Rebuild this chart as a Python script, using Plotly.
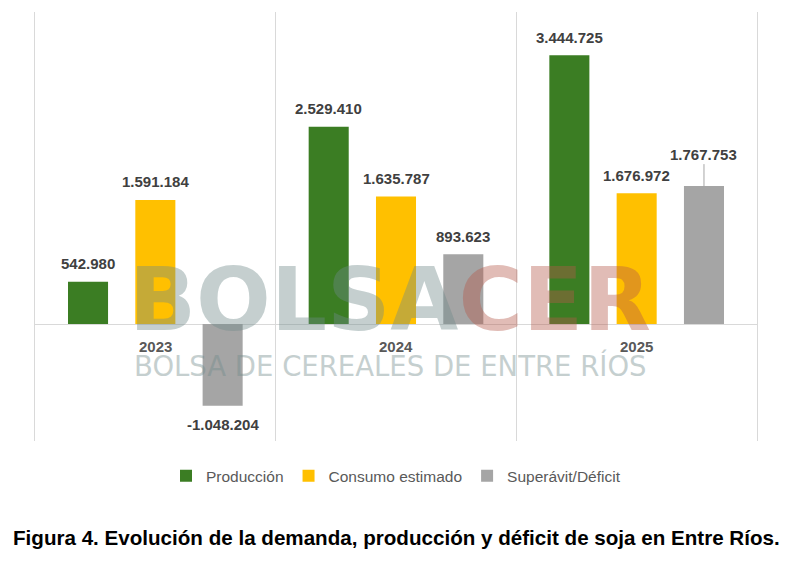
import plotly.graph_objects as go

years = ["2023", "2024", "2025"]
produccion = [542980, 2529410, 3444725]
consumo = [1591184, 1635787, 1676972]
saldo = [-1048204, 893623, 1767753]
series_names = ["Producción", "Consumo estimado", "Superávit/Déficit"]
series_colors = ["#3b7d23", "#ffc000", "#a5a5a5"]
title_text = "Figura 4. Evolución de la demanda, producción y déficit de soja en Entre Ríos."

BARGAP = 0.161
BARGROUPGAP = 0.405


def fmt(v):
    return f"{v:,}".replace(",", ".")


fig = go.Figure()
all_series = [produccion, consumo, saldo]
for name, vals, col in zip(series_names, all_series, series_colors):
    fig.add_trace(go.Bar(x=years, y=vals, name=name, marker_color=col,
                         marker_line_width=0, hoverinfo="skip"))

slot = (1 - BARGAP) / len(all_series)
label_font = dict(family="Liberation Sans, Arial, sans-serif", size=15, color="#404040", weight="bold")
for j, vals in enumerate(all_series):
    for i, v in enumerate(vals):
        xpos = i + (j - 1) * slot
        if j == 2 and i == 2:
            fig.add_annotation(x=xpos, y=v, xref="x", yref="y", text=fmt(v),
                               showarrow=True, arrowhead=0, arrowwidth=1,
                               arrowcolor="#a6a6a6", ax=0, ay=-32, standoff=0,
                               font=label_font)
        elif v >= 0:
            fig.add_annotation(x=xpos, y=v, xref="x", yref="y", text=fmt(v),
                               showarrow=False, yanchor="middle", yshift=18,
                               font=label_font)
        else:
            fig.add_annotation(x=xpos, y=v, xref="x", yref="y", text=fmt(v),
                               showarrow=False, yanchor="middle", yshift=-19,
                               font=label_font)

for i, yr in enumerate(years):
    fig.add_annotation(x=i, y=0, xref="x", yref="y", text=yr, showarrow=False,
                       yanchor="middle", yshift=-22,
                       font=dict(family="Liberation Sans, Arial, sans-serif", size=15,
                                 color="#595959", weight="bold"))

# watermark
fig.add_annotation(x=0.4917, y=0.331, xref="paper", yref="paper",
                   text="<span style='color:#6f8a8a'>BOLSA</span><span style='color:#b5594a'>CER</span>",
                   showarrow=False, opacity=0.4, xanchor="center", yanchor="middle",
                   font=dict(family="DejaVu Sans", size=88, weight="bold"))
fig.add_annotation(x=0.4917, y=0.175, xref="paper", yref="paper",
                   text="BOLSA DE CEREALES DE ENTRE RÍOS",
                   showarrow=False, opacity=0.4, xanchor="center", yanchor="middle",
                   font=dict(family="DejaVu Sans", size=27.5, color="#6f8a8a"))

fig.add_annotation(x=0.5, y=-0.226, xref="paper", yref="paper", text=title_text,
                   showarrow=False, xanchor="center", yanchor="middle",
                   font=dict(family="Liberation Sans Narrow, Arial Narrow, sans-serif",
                             size=20.6, color="#000000", weight="bold"))

fig.update_layout(
    width=790, height=553,
    margin=dict(l=27, r=41, t=4, b=120),
    paper_bgcolor="white", plot_bgcolor="white",
    barmode="group", bargap=BARGAP, bargroupgap=BARGROUPGAP,
    showlegend=True,
    legend=dict(orientation="h", x=0.5, xanchor="center", y=-0.082, yanchor="middle",
                font=dict(family="Liberation Sans, Arial, sans-serif",
                          size=15.5, color="#595959")),
    xaxis=dict(showticklabels=False, showgrid=True, tickson="boundaries",
               gridcolor="#d9d9d9", gridwidth=1, ticks="", zeroline=False,
               showline=False, fixedrange=True),
    yaxis=dict(range=[-1500000, 4000000], showticklabels=False, showgrid=False,
               zeroline=True, zerolinecolor="#d9d9d9", zerolinewidth=1,
               showline=True, mirror=True, linecolor="#d9d9d9", linewidth=1,
               ticks="", fixedrange=True),
)

fig.write_html("out.html")
